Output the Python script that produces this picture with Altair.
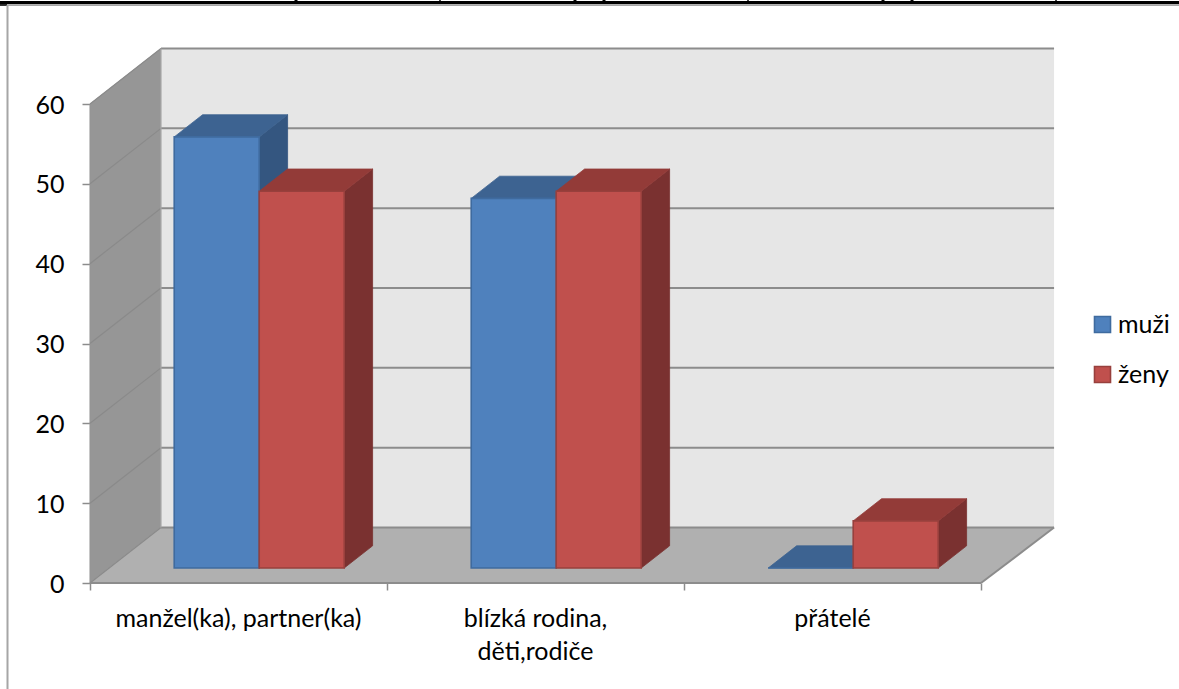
import altair as alt
import pandas as pd

# Survey shares per category
categories = ["manžel(ka), partner(ka)", "blízká rodina,\nděti,rodiče", "přátelé"]
series_names = ["muži", "ženy"]
muzi = [54.0, 46.3, 0.0]
zeny = [47.2, 47.2, 5.9]
series_values = [muzi, zeny]
y_ticks = [0, 10, 20, 30, 40, 50, 60]
x_ticks = [0, 1, 2, 3]

front_colors = ["#4f81bd", "#c0504d"]
edge_colors = ["#3f6b9f", "#98403d"]
top_colors = ["#3d6391", "#933b38"]
side_colors = ["#345680", "#7a3130"]

# Oblique projection: one unit of depth shifts a point along both scales
DEPTH_X = 0.239
DEPTH_Y = 6.95
BACK_RIGHT = 3.007
BAR_D0, BAR_D1 = 0.27, 0.67
GAP = 0.219
BAR_W = 0.2862

FONT = "Lato"
FONT_SIZE = 25
X_SCALE = alt.Scale(domain=[0, 3], nice=False, zero=False)
Y_SCALE = alt.Scale(domain=[0, 60], nice=False, zero=False)
X_AXIS = alt.Axis(values=x_ticks, labels=False, grid=False, domain=False, tickColor="#8c8c8c",
                  tickSize=7, tickWidth=1.5, title=None)
Y_AXIS = alt.Axis(values=y_ticks, format="d", grid=False, domainColor="#a0a0a0", domainWidth=1.5,
                  tickColor="#8c8c8c", tickSize=8, tickWidth=1.5, labelPadding=18, title=None,
                  labelFont=FONT, labelFontSize=FONT_SIZE, labelColor="#000000", labelOffset=1)


def px(cat_pos, depth=0.0):
    return cat_pos + depth * DEPTH_X


def py(value, depth=0.0):
    return value + depth * DEPTH_Y


def qx(field="x"):
    return alt.X(f"{field}:Q", scale=X_SCALE, axis=X_AXIS, stack=None)


def qy(field="y"):
    return alt.Y(f"{field}:Q", scale=Y_SCALE, axis=Y_AXIS, stack=None)


def vertical_face(rows, color, stroke=None):
    return alt.Chart(pd.DataFrame(rows)).mark_area(
        color=color, stroke=stroke or color, strokeWidth=0.8, orient="vertical"
    ).encode(x=qx(), y=qy(), y2="y2:Q", detail="id:N")


def horizontal_face(rows, color, stroke=None):
    return alt.Chart(pd.DataFrame(rows)).mark_area(
        color=color, stroke=stroke or color, strokeWidth=0.8, orient="horizontal"
    ).encode(y=qy(), x=qx(), x2="x2:Q", detail="id:N")


def segments(rows, color, width):
    return alt.Chart(pd.DataFrame(rows)).mark_rule(color=color, strokeWidth=width).encode(
        x=qx(), x2="x2:Q", y=qy(), y2="y2:Q"
    )


# Chart box: side wall, floor and back wall
side_wall = vertical_face(
    [{"id": "w", "x": px(0, d), "y": py(60, d), "y2": py(0, d)} for d in (0, 1)], "#969696"
)
floor = horizontal_face(
    [{"id": "f", "y": py(0, d), "x": px(0, d), "x2": px(3 + (BACK_RIGHT - 3) * d, d)} for d in (0, 1)], "#b0b0b0"
)
back_wall = alt.Chart(pd.DataFrame([{"x": px(0, 1), "x2": px(BACK_RIGHT, 1), "y": py(0, 1), "y2": py(60, 1)}])).mark_rect(
    color="#e6e6e6"
).encode(x=qx(), x2="x2:Q", y=qy(), y2="y2:Q")

grid_back = segments(
    [{"x": px(0, 1), "x2": px(BACK_RIGHT, 1), "y": py(v, 1), "y2": py(v, 1)} for v in y_ticks], "#8c8c8c", 2
)
grid_side = segments(
    [{"x": px(0), "x2": px(0, 1), "y": py(v), "y2": py(v, 1)} for v in y_ticks], "#8a8a8a", 1.2
)
floor_edges = segments(
    [
        {"x": px(3), "x2": px(BACK_RIGHT, 1), "y": py(0), "y2": py(0, 1)},
        {"x": px(0), "x2": px(3), "y": py(0), "y2": py(0)},
    ],
    "#8c8c8c",
    2,
)
back_left_edge = segments(
    [{"x": px(0, 1), "x2": px(0, 1), "y": py(0, 1), "y2": py(60, 1)}], "#a6a6a6", 1.2
)

# Bar faces, drawn one series after the other so the nearer bar covers its neighbour
face_layers = []
front_rows = []
for s, (name, values) in enumerate(zip(series_names, series_values)):
    tops, sides = [], []
    for c, v in enumerate(values):
        left = c + GAP + s * BAR_W
        right = left + BAR_W
        key = f"{name}{c}"
        base = py(0, BAR_D0)
        front_rows.append({
            "serie": name,
            "x": px(left, BAR_D0),
            "x2": px(right, BAR_D0),
            "y": base,
            "y2": base + v,
        })
        for d in (BAR_D0, BAR_D1):
            tops.append({"id": key, "y": base + v + (d - BAR_D0) * DEPTH_Y,
                         "x": px(left, d), "x2": px(right, d)})
            sides.append({"id": key, "x": px(right, d), "y": base + v + (d - BAR_D0) * DEPTH_Y,
                          "y2": base + (d - BAR_D0) * DEPTH_Y})
    face_layers.append(vertical_face(sides, side_colors[s]))
    face_layers.append(horizontal_face(tops, top_colors[s]))

fronts = alt.Chart(pd.DataFrame(front_rows)).mark_rect(strokeWidth=1.6).encode(
    x=qx(),
    x2="x2:Q",
    y=qy(),
    y2="y2:Q",
    fill=alt.Fill(
        "serie:N",
        scale=alt.Scale(domain=series_names, range=front_colors),
        legend=alt.Legend(
            title=None, orient="none", legendX=1000, legendY=208, symbolType="square", symbolSize=256,
            symbolStrokeWidth=1.6, labelFont=FONT, labelFontSize=FONT_SIZE, labelColor="#000000",
            rowPadding=24, labelOffset=3, padding=0,
        ),
    ),
    stroke=alt.Stroke("serie:N", scale=alt.Scale(domain=series_names, range=edge_colors), legend=None),
)

# Category labels under the floor
cat_df = pd.DataFrame({"x": [i + 0.5 for i in range(len(categories))], "y": -2.95, "label": categories})
cat_labels = alt.Chart(cat_df).mark_text(
    font=FONT, fontSize=FONT_SIZE, color="#000000", baseline="top", align="center", lineBreak="\n", lineHeight=33
).encode(x=qx(), y=qy(), text="label:N")

# Page rules around the chart
frame = [
    alt.Chart(pd.DataFrame([{"k": 0}])).mark_rule(color="#000000", strokeWidth=3.4).encode(
        x=alt.value(-90), x2=alt.value(1089), y=alt.value(-101.4)
    ),
    alt.Chart(pd.DataFrame([{"k": 0}])).mark_rule(color="#a6a6a6", strokeWidth=1.6).encode(
        x=alt.value(-83), x2=alt.value(1089), y=alt.value(-98.8)
    ),
    alt.Chart(pd.DataFrame([{"k": 0}])).mark_rule(color="#000000", strokeWidth=1.6).encode(
        x=alt.value(-90), x2=alt.value(-83), y=alt.value(-99)
    ),
    alt.Chart(pd.DataFrame([{"k": 0}])).mark_rule(color="#a6a6a6", strokeWidth=2).encode(
        x=alt.value(-82.5), y=alt.value(-99), y2=alt.value(585)
    ),
]
for tick_x, tick_w in [(296, 3), (440, 1.5), (575, 3), (604, 3), (748, 1.5), (883, 3), (912, 3), (1056, 1.5)]:
    frame.append(
        alt.Chart(pd.DataFrame([{"k": 0}])).mark_rule(color="#000000", strokeWidth=tick_w).encode(
            x=alt.value(tick_x - 90), y=alt.value(-104), y2=alt.value(-101)
        )
    )

chart = alt.layer(
    side_wall, back_wall, floor, grid_side, grid_back, back_left_edge, floor_edges,
    *face_layers, fronts, cat_labels, *frame,
).properties(
    width=891,
    height=479,
    padding={"left": 90, "top": 104, "right": 198, "bottom": 106},
    autosize=alt.AutoSizeParams(type="none"),
    background="#ffffff",
).configure_view(stroke=None)

chart.save("out.html", embed_options={"renderer": "svg", "actions": False})
